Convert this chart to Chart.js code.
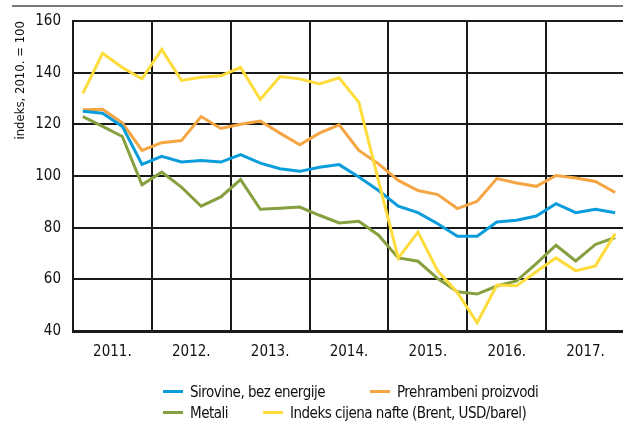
<!DOCTYPE html>
<html>
<head>
<meta charset="utf-8">
<script src="https://cdn.jsdelivr.net/npm/chart.js@4/dist/chart.umd.min.js"></script>
<style>
  body { margin: 0; background: #fff; overflow: hidden; }
  #okvir { position: relative; width: 623px; height: 424px; overflow: hidden; font-family: "Liberation Sans Narrow", "DejaVu Sans Condensed", sans-serif; }
  #crta { position: absolute; left: 12px; top: 5px; width: 611px; height: 0; border-top: 2px solid #777; }
  #platno { position: absolute; left: 0; top: 0; width: 625px; height: 424px; }
  .stavka { position: absolute; font-size: 15px; letter-spacing: -0.5px; color: #111; white-space: nowrap; line-height: 18px; }
  .stavka span { display: inline-block; width: 20px; height: 3px; vertical-align: middle; margin-right: 7px; position: relative; top: -1px; }
</style>
</head>
<body>
<div id="okvir">
  <div id="crta"></div>
  <div id="platno"><canvas id="grafikon" width="625" height="424"></canvas></div>
  <div id="legenda"></div>
</div>
<script>
// Godine (svaka ima 4 tromjesečja)
const godine = ['2011.', '2012.', '2013.', '2014.', '2015.', '2016.', '2017.'];

// Tromjesečni indeksi, 2010. = 100
const sirovine = [125.1, 124.3, 119.2, 104.5, 107.6, 105.4, 106.0, 105.4, 108.3, 105.0, 102.8, 101.8,
                  103.4, 104.4, 99.6, 94.4, 88.3, 85.8, 81.5, 76.7, 76.7, 82.2, 82.9, 84.5, 89.3, 85.8, 87.1, 85.8];
const hrana = [125.6, 125.8, 120.6, 109.9, 112.9, 113.7, 123.0, 118.4, 120.0, 121.3, 116.6, 112.1,
               116.6, 119.8, 109.9, 104.7, 98.3, 94.4, 92.8, 87.4, 90.2, 99.0, 97.3, 96.0, 100.2, 99.2, 97.9, 93.6];
const metali = [123.0, 119.2, 115.3, 96.6, 101.5, 95.7, 88.3, 91.9, 98.6, 87.1, 87.5, 88.0,
                84.8, 81.8, 82.5, 77.1, 68.3, 67.0, 60.3, 55.2, 54.3, 57.4, 59.4, 66.1, 73.2, 67.1, 73.5, 76.2];
const nafta = [132.0, 147.5, 142.0, 137.6, 149.0, 137.0, 138.2, 138.8, 142.0, 129.6, 138.5, 137.6,
               135.6, 138.0, 128.5, 98.0, 68.2, 78.3, 63.3, 54.8, 43.2, 57.8, 57.5, 62.9, 68.3, 63.3, 65.2, 77.7];

const nazivi = ['Sirovine, bez energije', 'Prehrambeni proizvodi', 'Metali', 'Indeks cijena nafte (Brent, USD/barel)'];
const boje = ['#0a9ddb', '#f5a542', '#86a03f', '#fddc3c'];
const serije = [sirovine, hrana, metali, nafta];

// Točke su na sredini tromjesečja
function tocke(niz) {
    return niz.map((v, i) => ({ x: i + 0.5, y: v }));
}

const skupovi = serije.map((niz, i) => ({
    label: nazivi[i],
    data: tocke(niz),
    borderColor: boje[i],
    backgroundColor: boje[i],
    borderWidth: 3,
    pointRadius: 0,
    tension: 0
}));
// žuta linija se crta iznad ostalih
skupovi[3].order = -1;

const font = { family: '"Liberation Sans Narrow", "DejaVu Sans Condensed", sans-serif', size: 15 };

new Chart(document.getElementById('grafikon'), {
    type: 'line',
    data: { datasets: skupovi },
    options: {
        responsive: false,
        animation: false,
        layout: { padding: { top: 20, right: 0, bottom: 53, left: 0 } },
        plugins: { legend: { display: false }, tooltip: { enabled: false } },
        scales: {
            x: {
                type: 'linear',
                min: 0,
                max: godine.length * 4,
                afterFit: s => {
                    s.height = 40;
                    s.paddingLeft = 0;
                    s.paddingRight = 0;
                },
                afterBuildTicks: s => {
                    const t = [];
                    for (let v = 0; v <= godine.length * 4; v += 2) t.push({ value: v });
                    s.ticks = t;
                },
                grid: {
                    drawTicks: false,
                    lineWidth: 2,
                    color: c => (c.tick && c.tick.value % 4 === 0 && c.tick.value < godine.length * 4) ? '#1a1a1a' : 'rgba(0,0,0,0)'
                },
                border: { color: '#1a1a1a', width: 3 },
                ticks: {
                    padding: 12,
                    autoSkip: false,
                    maxRotation: 0,
                    color: '#111',
                    font: font,
                    callback: v => (v % 4 === 2) ? godine[(v - 2) / 4] : ''
                }
            },
            y: {
                min: 40,
                max: 160,
                afterFit: s => { s.width = 73; },
                grid: { drawTicks: false, lineWidth: 2, color: '#1a1a1a' },
                border: { color: '#1a1a1a', width: 2 },
                ticks: { stepSize: 20, padding: 12, color: '#111', font: font },
                title: {
                    display: true,
                    text: 'indeks, 2010. = 100',
                    align: 'end',
                    color: '#111',
                    font: { family: font.family, size: 13 },
                    padding: { top: 13, bottom: 0 }
                }
            }
        }
    }
});

// Legenda u dva reda
const mjesta = [[163, 383], [370, 383], [163, 404], [263, 404]];
const legenda = document.getElementById('legenda');
nazivi.forEach((naziv, i) => {
    const el = document.createElement('div');
    el.className = 'stavka';
    el.style.left = mjesta[i][0] + 'px';
    el.style.top = mjesta[i][1] + 'px';
    const uzorak = document.createElement('span');
    uzorak.style.background = boje[i];
    el.appendChild(uzorak);
    el.appendChild(document.createTextNode(naziv));
    legenda.appendChild(el);
});
</script>
</body>
</html>
